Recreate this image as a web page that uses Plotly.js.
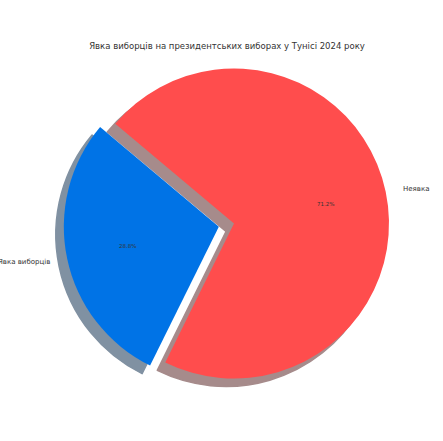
<!DOCTYPE html>
<html>
<head>
<meta charset="utf-8">
<script src="https://cdn.plot.ly/plotly-3.0.1.min.js"></script>
<style>html,body{margin:0;padding:0;background:#fff;}#chart{width:443px;height:441px;}</style>
</head>
<body>
<div id="chart"></div>
<script>
// Data
const categories = ["Явка виборців", "Неявка"];
const values = [28.8, 71.2];
const colors = ["#0073e6", "#ff4d4d"];
const shadowColors = ["#8091a2", "#a68b8b"];
const pulls = [0.1, 0];
const titleText = "Явка виборців на президентських виборах у Тунісі 2024 року";

// Geometry (pixels)
const W = 443, H = 441;
const CX = 234, CY = 223.5, R = 155;
const START = 140; // degrees, counterclockwise from +x (start of first slice)
const maxPull = Math.max(...pulls);
const half = R * (1 + maxPull);
const SHX = -8, SHY = 8;
const total = values.reduce((a, b) => a + b, 0);
// Plotly (counterclockwise) anchors the END of the first slice at the rotation angle
const ROT = 90 - (START + values[0] / total * 360);

function dom(cx, cy) {
  return {
    x: [(cx - half) / W, (cx + half) / W],
    y: [1 - (cy + half) / H, 1 - (cy - half) / H]
  };
}

const shadow = {
  type: 'pie', values: values, labels: categories, sort: false,
  direction: 'counterclockwise', rotation: ROT,
  pull: pulls, marker: {colors: shadowColors, line: {width: 1.5, color: shadowColors}},
  textinfo: 'none', hoverinfo: 'skip', showlegend: false,
  domain: dom(CX + SHX, CY + SHY)
};
const main = {
  type: 'pie', values: values, labels: categories, sort: false,
  direction: 'counterclockwise', rotation: ROT,
  pull: pulls, marker: {colors: colors, line: {width: 0}},
  textinfo: 'none', showlegend: false,
  domain: dom(CX, CY)
};

// Labels & percentages (matplotlib-style positions)
const annotations = [];
let a0 = START;
values.forEach((v, i) => {
  const span = v / total * 360;
  const mid = (a0 + span / 2) * Math.PI / 180;
  a0 += span;
  const ox = CX + pulls[i] * R * Math.cos(mid);
  const oy = CY - pulls[i] * R * Math.sin(mid);
  const px = ox + 0.6 * R * Math.cos(mid), py = oy - 0.6 * R * Math.sin(mid);
  const lx = ox + 1.1 * R * Math.cos(mid), ly = oy - 1.1 * R * Math.sin(mid);
  annotations.push({
    xref: 'paper', yref: 'paper', x: px / W, y: 1 - py / H,
    text: (v / total * 100).toFixed(1) + '%', showarrow: false,
    xanchor: 'center', yanchor: 'middle',
    font: {family: 'DejaVu Sans', size: 5.5, color: '#333'}
  });
  annotations.push({
    xref: 'paper', yref: 'paper', x: lx / W, y: 1 - ly / H,
    text: categories[i], showarrow: false,
    xanchor: Math.cos(mid) < 0 ? 'right' : 'left', yanchor: 'middle',
    font: {family: 'DejaVu Sans', size: 7, color: '#333'}
  });
});

const layout = {
  width: W, height: H,
  margin: {l: 0, r: 0, t: 0, b: 0},
  paper_bgcolor: '#fff',
  showlegend: false,
  title: {
    text: titleText, xref: 'paper', yref: 'paper', x: 227 / W, y: 1 - 46 / H,
    xanchor: 'center', yanchor: 'middle',
    font: {family: 'DejaVu Sans', size: 8.5, color: '#333'}
  },
  annotations: annotations
};

Plotly.newPlot('chart', [shadow, main], layout, {staticPlot: true, displayModeBar: false});
</script>
</body>
</html>
